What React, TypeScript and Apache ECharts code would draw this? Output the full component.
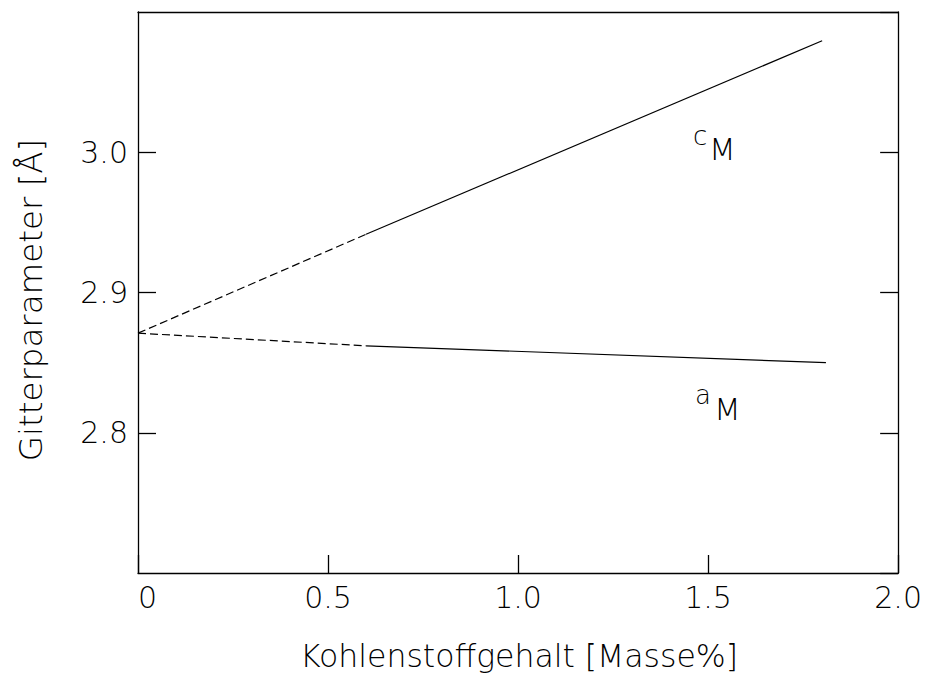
import React, { useEffect, useRef } from "react";
import * as echarts from "echarts";

const cDashed: [number, number][] = [[0, 2.871], [0.6, 2.9415]];
const cSolid: [number, number][] = [[0.6, 2.9415], [1.8, 3.0795]];
const aDashed: [number, number][] = [[0, 2.871], [0.6, 2.862]];
const aSolid: [number, number][] = [[0.6, 2.862], [1.81, 2.85]];
const xTicks = [0, 0.5, 1.0, 1.5, 2.0];
const yTicks = [2.8, 2.9, 3.0];
const xTitle = "Kohlenstoffgehalt [Masse%]";
const yTitle = "Gitterparameter [Å]";

const FONT = "'DejaVu Sans'";
const FW = 200;
const FS = 30;

export default function App() {
  const ref = useRef<HTMLDivElement>(null);
  useEffect(() => {
    document.body.style.margin = "0";
    const chart = echarts.init(ref.current!, null, { renderer: "svg" });
    const axisLine = { show: true, onZero: false, lineStyle: { color: "#000", width: 1.3 } };
    const lbl = { fontFamily: FONT, fontWeight: FW, fontSize: FS, color: "#000" };
    const line = (data: [number, number][], dashed: boolean) => ({
      type: "line",
      data,
      symbol: "none",
      silent: true,
      lineStyle: { color: "#000", width: 1.2, type: dashed ? [8, 4] : "solid" },
    });
    chart.setOption({
      animation: false,
      backgroundColor: "#fff",
      grid: { left: 138, top: 12, right: 25, bottom: 101 },
      xAxis: [
        {
          type: "value",
          min: 0,
          max: 2,
          interval: 0.5,
          position: "bottom",
          axisLine,
          splitLine: { show: false },
          axisTick: { show: true, inside: true, length: 18, lineStyle: { color: "#000", width: 1.3 } },
          axisLabel: {
            ...lbl,
            margin: 9,
            alignMinLabel: "left",
            formatter: (v: number) => (xTicks.includes(v) ? (v === 0 ? "0" : v.toFixed(1)) : ""),
          },
        },
        {
          type: "value",
          min: 0,
          max: 2,
          interval: 0.5,
          position: "top",
          axisLine,
          splitLine: { show: false },
          axisTick: { show: false },
          axisLabel: { show: false },
        },
      ],
      yAxis: [
        {
          type: "value",
          min: 2.7,
          max: 3.1,
          interval: 0.1,
          position: "left",
          axisLine,
          splitLine: { show: false },
          axisTick: { show: true, inside: true, length: 18, lineStyle: { color: "#000", width: 1.3 } },
          axisLabel: {
            ...lbl,
            margin: 10,
            showMinLabel: false,
            showMaxLabel: false,
            formatter: (v: number) => {
              const r = Math.round(v * 10) / 10;
              return yTicks.includes(r) ? r.toFixed(1) : "";
            },
          },
        },
        {
          type: "value",
          min: 2.7,
          max: 3.1,
          interval: 0.1,
          position: "right",
          axisLine,
          splitLine: { show: false },
          axisTick: { show: true, inside: true, length: 18, lineStyle: { color: "#000", width: 1.3 } },
          axisLabel: { show: false },
        },
      ],
      series: [line(cDashed, true), line(cSolid, false), line(aDashed, true), line(aSolid, false)],
      graphic: [
        {
          type: "text",
          x: 519,
          y: 656,
          style: { text: xTitle, font: `${FW} 31.5px ${FONT}`, fill: "#000", align: "center", verticalAlign: "middle" },
        },
        {
          type: "text",
          x: 31,
          y: 300,
          rotation: Math.PI / 2,
          style: { text: yTitle, font: `${FW} 32.5px ${FONT}`, fill: "#000", align: "center", verticalAlign: "middle" },
        },
        { type: "text", x: 693, y: 149, style: { text: "c", font: `${FW} 26px ${FONT}`, fill: "#000", align: "left", verticalAlign: "bottom" } },
        { type: "text", x: 709, y: 164, style: { text: "M", font: `${FW} 31px ${FONT}`, fill: "#000", align: "left", verticalAlign: "bottom" } },
        { type: "text", x: 695, y: 408, style: { text: "a", font: `${FW} 26px ${FONT}`, fill: "#000", align: "left", verticalAlign: "bottom" } },
        { type: "text", x: 714, y: 424, style: { text: "M", font: `${FW} 31px ${FONT}`, fill: "#000", align: "left", verticalAlign: "bottom" } },
      ],
    });
    return () => chart.dispose();
  }, []);
  return <div ref={ref} style={{ position: "absolute", left: 0, top: 0, width: 925, height: 674 }} />;
}
